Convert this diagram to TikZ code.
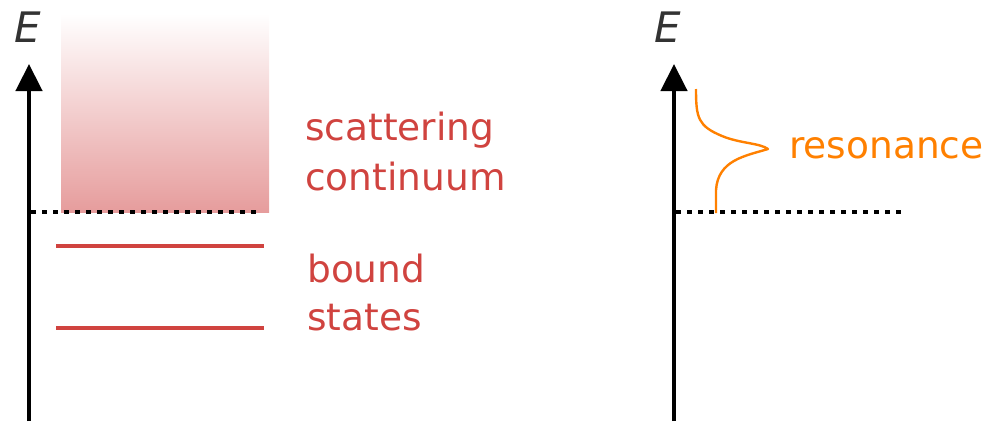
\documentclass[tikz,border=0pt]{standalone}
\usepackage{fontspec}
\setmainfont{DejaVu Sans}
\usetikzlibrary{arrows.meta}
\definecolor{lvred}{HTML}{D0433F}
\definecolor{shadered}{HTML}{E69C9C}
\definecolor{resorange}{HTML}{FF8000}
\definecolor{labgrey}{HTML}{333333}
\tikzset{
  axis/.style={line width=4.5pt, -{Triangle[length=27pt,width=26pt]}},
  threshold/.style={line width=4.5pt, dash pattern=on 4.5pt off 6.5pt},
  level/.style={line width=4.5pt, lvred},
  lab/.style={anchor=base west, inner sep=0pt, font=\fontsize{37.5}{42}\selectfont},
  elab/.style={anchor=base west, inner sep=0pt, text=labgrey, font=\fontsize{42}{46}\selectfont\itshape},
}
\begin{document}
\begin{tikzpicture}[x=1pt,y=-1pt]
\useasboundingbox (0,0) rectangle (984,431);
% left panel
\shade[top color=white, bottom color=shadered] (61,14) rectangle (269,212);
\coordinate (la0) at (29,421);
\coordinate (la1) at (29,64);
\draw[axis] (la0) -- (la1);
\node[elab] (E1) at (14,42) {E};
\coordinate (t1a) at (31,212);
\coordinate (t1b) at (262,212);
\draw[threshold] (t1a) -- (t1b);
\coordinate (b1a) at (56,246);
\coordinate (b1b) at (264,246);
\coordinate (b2a) at (56,328);
\coordinate (b2b) at (264,328);
\draw[level] (b1a) -- (b1b);
\draw[level] (b2a) -- (b2b);
\node[lab, text=lvred] (sc1) at (305,140) {scattering};
\node[lab, text=lvred] (sc2) at (305,190) {continuum};
\node[lab, text=lvred] (bs1) at (307,282) {bound};
\node[lab, text=lvred] (bs2) at (307,330) {states};
% right panel
\coordinate (ra0) at (674,421);
\coordinate (ra1) at (674,64);
\draw[axis] (ra0) -- (ra1);
\node[elab] (E2) at (654,42) {E};
\coordinate (t2a) at (676,212);
\coordinate (t2b) at (906,212);
\draw[threshold] (t2a) -- (t2b);
\coordinate (c0) at (696,89);
\coordinate (cp) at (768,149);
\coordinate (c1) at (716,213);
\draw[resorange, line width=2.4pt, line join=round] (c0) .. controls (696,118) and (698,126) .. (722,136) .. controls (740,143.5) and (760,143) .. (cp) .. controls (745,156) and (718,160) .. (716,190) -- (c1);
\node[lab, text=resorange] (res) at (789,158) {resonance};
\end{tikzpicture}
\end{document}
